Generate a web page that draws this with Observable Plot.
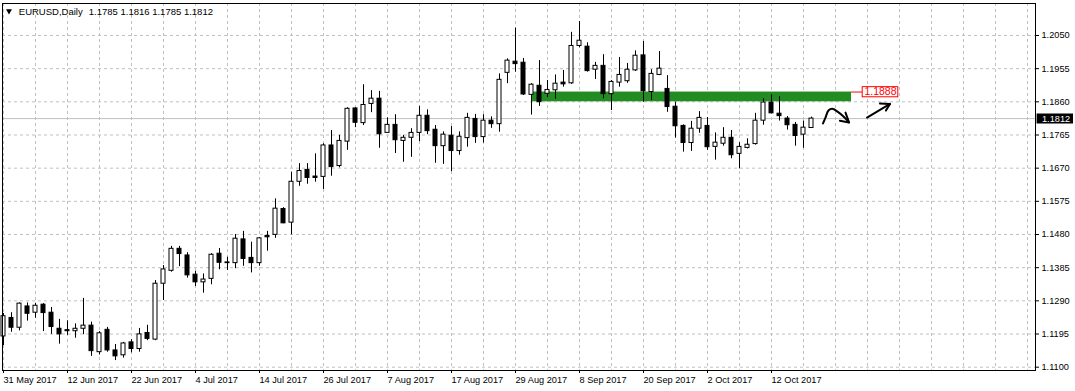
<!DOCTYPE html>
<html>
<head>
<meta charset="utf-8">
<script src="https://cdn.jsdelivr.net/npm/d3@7"></script>
<script src="https://cdn.jsdelivr.net/npm/@observablehq/plot@0.6"></script>
<style>
  html, body { margin: 0; padding: 0; background: #fff; }
  #chart svg { display: block; }
</style>
</head>
<body>
<div id="chart"></div>
<script>
// ---- Data (EURUSD daily) ----
const symbol = "EURUSD,Daily";
const open  = [1.1188,1.1241,1.1213,1.1274,1.1256,1.1279,1.1256,1.1210,1.1206,1.1203,1.1210,1.1219,1.1143,1.1207,1.1148,1.1134,1.1171,1.1152,1.1198,1.1179,1.1339,1.1376,1.1439,1.1420,1.1365,1.1343,1.1353,1.1425,1.1400,1.1398,1.1466,1.1413,1.1398,1.1476,1.1479,1.1553,1.1514,1.1631,1.1665,1.1646,1.1645,1.1735,1.1676,1.1746,1.1841,1.1799,1.1854,1.1869,1.1771,1.1794,1.1748,1.1757,1.1771,1.1820,1.1780,1.1733,1.1763,1.1719,1.1756,1.1811,1.1759,1.1806,1.1796,1.1943,1.1975,1.1972,1.1880,1.1906,1.1883,1.1893,1.1915,1.1913,1.2020,1.2018,1.1952,1.1963,1.1882,1.1915,1.1919,1.1950,1.1993,1.1888,1.1937,1.1897,1.1846,1.1791,1.1742,1.1783,1.1791,1.1731,1.1740,1.1757,1.1711,1.1728,1.1739,1.1806,1.1858,1.1826,1.1812,1.1794,1.1766,1.1785];
const high  = [1.1254,1.1256,1.1284,1.1284,1.1283,1.1282,1.1271,1.1237,1.1233,1.1224,1.1297,1.1229,1.1202,1.1214,1.1165,1.1171,1.1179,1.1211,1.1220,1.1348,1.1391,1.1446,1.1446,1.1428,1.1375,1.1367,1.1425,1.1440,1.1415,1.1480,1.1489,1.1458,1.1471,1.1489,1.1582,1.1557,1.1658,1.1683,1.1683,1.1711,1.1740,1.1778,1.1764,1.1843,1.1843,1.1909,1.1892,1.1890,1.1814,1.1823,1.1764,1.1783,1.1847,1.1837,1.1792,1.1774,1.1789,1.1774,1.1827,1.1824,1.1823,1.1817,1.1940,1.1983,1.2071,1.1984,1.1912,1.1978,1.1921,1.1937,1.1950,1.2059,1.2090,1.2029,1.1973,1.1995,1.1921,1.1987,1.1970,1.2006,1.2033,1.1952,1.2004,1.1935,1.1859,1.1794,1.1804,1.1832,1.1815,1.1771,1.1786,1.1778,1.1743,1.1754,1.1827,1.1869,1.1880,1.1875,1.1818,1.1801,1.1805,1.1816];
const low   = [1.1162,1.1200,1.1204,1.1232,1.1240,1.1202,1.1194,1.1166,1.1191,1.1183,1.1193,1.1131,1.1135,1.1143,1.1119,1.1126,1.1141,1.1143,1.1176,1.1176,1.1291,1.1372,1.1388,1.1355,1.1331,1.1312,1.1336,1.1379,1.1377,1.1382,1.1389,1.1370,1.1389,1.1432,1.1469,1.1511,1.1479,1.1618,1.1624,1.1630,1.1609,1.1647,1.1671,1.1721,1.1786,1.1792,1.1829,1.1727,1.1771,1.1712,1.1687,1.1701,1.1746,1.1766,1.1684,1.1681,1.1660,1.1707,1.1730,1.1741,1.1742,1.1784,1.1773,1.1912,1.1945,1.1878,1.1822,1.1847,1.1872,1.1867,1.1902,1.1910,1.2015,1.1945,1.1924,1.1869,1.1835,1.1902,1.1913,1.1947,1.1859,1.1864,1.1935,1.1830,1.1756,1.1716,1.1718,1.1770,1.1721,1.1693,1.1733,1.1697,1.1668,1.1725,1.1736,1.1793,1.1826,1.1805,1.1779,1.1733,1.1727,1.1785];
const close = [1.1246,1.1213,1.1282,1.1253,1.1276,1.1255,1.1215,1.1194,1.1203,1.1210,1.1219,1.1146,1.1197,1.1148,1.1131,1.1168,1.1152,1.1194,1.1181,1.1339,1.1380,1.1439,1.1424,1.1363,1.1343,1.1351,1.1422,1.1399,1.1398,1.1468,1.1410,1.1398,1.1469,1.1472,1.1554,1.1512,1.1631,1.1662,1.1642,1.1642,1.1735,1.1673,1.1748,1.1840,1.1800,1.1851,1.1869,1.1767,1.1794,1.1750,1.1757,1.1771,1.1820,1.1776,1.1733,1.1766,1.1719,1.1760,1.1814,1.1759,1.1806,1.1796,1.1923,1.1978,1.1968,1.1881,1.1909,1.1859,1.1894,1.1912,1.1910,1.2020,1.2035,1.1948,1.1963,1.1882,1.1917,1.1937,1.1952,1.1992,1.1890,1.1940,1.1955,1.1845,1.1790,1.1742,1.1783,1.1814,1.1730,1.1743,1.1757,1.1707,1.1731,1.1737,1.1806,1.1858,1.1827,1.1819,1.1793,1.1762,1.1786,1.1812];

// date tick labels (every 8th bar) and their bar indexes
const dateTickIndex = [0,8,16,24,32,40,48,56,64,72,80,88,96];
const dateTickLabels = ["31 May 2017","12 Jun 2017","22 Jun 2017","4 Jul 2017","14 Jul 2017","26 Jul 2017","7 Aug 2017","17 Aug 2017","29 Aug 2017","8 Sep 2017","20 Sep 2017","2 Oct 2017","12 Oct 2017"];
const gridIndex = [0,4,8,12,16,20,24,28,32,36,40,44,48,52,56,60,64,68,72,76,80,84,88,92,96,100,104,108,112,116,120,124,128];
const priceTicks = [1.1100,1.1195,1.1290,1.1385,1.1480,1.1575,1.1670,1.1765,1.1860,1.1955,1.2050];

// annotations (bar index, price)
const zoneStart = [66.1];
const zoneEnd = [106];
const zoneLow = [1.1860];
const zoneHigh = [1.1888];
const zoneLabelBox = {x1: 107.4, x2: 111.85, y1: 1.1873, y2: 1.1902};
const arrow1X = [102.44,102.75,103.12,103.6,104.25,105.0,105.69];
const arrow1Y = [1.1798,1.1815,1.1835,1.1840,1.1832,1.1818,1.1801];
const arrow1HeadX = [104.55,105.69,105.25];
const arrow1HeadY = [1.1806,1.1801,1.1829];
const arrow2X = [107.94,110.81];
const arrow2Y = [1.1815,1.1854];
const arrow2HeadX = [109.55,110.81,110.3];
const arrow2HeadY = [1.1855,1.1854,1.1835];
const xDomain = [-0.125, 129];
const yDomain = [1.10905, 1.21416];

// ---- Build ----
const candles = open.map((o, i) => ({i, open: o, high: high[i], low: low[i], close: close[i]}));
const last = candles[candles.length - 1];
const ohlcText = [last.open, last.high, last.low, last.close].map(v => v.toFixed(4)).join(" ");
const pts = (xs, ys) => xs.map((x, k) => ({x, y: ys[k]}));
const zone = zoneStart.map((s, k) => ({x1: s, x2: zoneEnd[k], y1: zoneLow[k], y2: zoneHigh[k]}));
const FONT = "'Liberation Sans', Arial, sans-serif";
const grey = "#c0c0c0";

const chart = Plot.plot({
  width: 1075,
  height: 391,
  marginLeft: 2,
  marginRight: 40,
  marginTop: 3,
  marginBottom: 21,
  x: {type: "linear", domain: xDomain},
  y: {type: "linear", domain: yDomain},
  style: {fontFamily: FONT, fontSize: "9.2px", background: "#fff", color: "#000", overflow: "visible"},
  marks: [
    Plot.gridY({ticks: priceTicks, stroke: grey, strokeOpacity: 1, strokeDasharray: "3,3"}),
    Plot.gridX({ticks: gridIndex, stroke: grey, strokeOpacity: 1, strokeDasharray: "3,3"}),
    Plot.ruleY([last.close], {stroke: grey, strokeWidth: 1}),
    Plot.rect(zone, {x1: "x1", x2: "x2", y1: "y1", y2: "y2", fill: "#228b22"}),
    // wicks and bodies
    Plot.ruleX(candles, {x: "i", y1: "low", y2: "high", stroke: "#000", strokeWidth: 1}),
    Plot.rect(candles, {
      x1: d => d.i - 0.25, x2: d => d.i + 0.25,
      y1: "open", y2: "close",
      fill: d => d.close >= d.open ? "#fff" : "#000",
      stroke: "#000", strokeWidth: 1
    }),
    // zone price label
    Plot.ruleY(zone, {x1: "x2", x2: () => zoneLabelBox.x1, y: "y2", stroke: "#ff0000"}),
    Plot.rect([zoneLabelBox], {x1: "x1", x2: "x2", y1: "y1", y2: "y2", fill: "#fff", stroke: "#ff0000"}),
    Plot.text(zone, {x: () => (zoneLabelBox.x1 + zoneLabelBox.x2) / 2, y: "y2", text: d => d.y2.toFixed(4), fill: "#ff0000", fontSize: 10.5, fontFamily: FONT}),
    // hand-drawn arrows
    Plot.line(pts(arrow1X, arrow1Y), {x: "x", y: "y", curve: "catmull-rom", stroke: "#000", strokeWidth: 2, strokeLinecap: "round"}),
    Plot.line(pts(arrow1HeadX, arrow1HeadY), {x: "x", y: "y", stroke: "#000", strokeWidth: 2, strokeLinecap: "round", strokeLinejoin: "round"}),
    Plot.line(pts(arrow2X, arrow2Y), {x: "x", y: "y", stroke: "#000", strokeWidth: 2, strokeLinecap: "round"}),
    Plot.line(pts(arrow2HeadX, arrow2HeadY), {x: "x", y: "y", stroke: "#000", strokeWidth: 2, strokeLinecap: "round", strokeLinejoin: "round"}),
    Plot.frame({stroke: "#000"}),
    // axes
    Plot.axisY({anchor: "right", ticks: priceTicks, tickFormat: d => d.toFixed(4), tickSize: 3, tickPadding: 3, fontSize: 9.2, label: null}),
    Plot.axisX({anchor: "bottom", ticks: dateTickIndex, tickFormat: (d) => dateTickLabels[dateTickIndex.indexOf(d)], textAnchor: "start", tickSize: 3, tickPadding: 3, fontSize: 9.2, label: null}),
    // current price label on the axis
    Plot.ruleY([last.close], {x1: () => xDomain[1] + 0.2, x2: () => xDomain[1] + 4.75, stroke: "#000", strokeWidth: 10}),
    Plot.text([last.close], {y: d => d, frameAnchor: "right", dx: 6.5, textAnchor: "start", text: d => d.toFixed(4), fill: "#fff", fontSize: 9.2}),
    // title
    Plot.dot([symbol], {frameAnchor: "top-left", dx: 6.5, dy: 7.5, symbol: "triangle", rotate: 180, r: 2.2, fill: "#000", stroke: null}),
    Plot.text([symbol], {frameAnchor: "top-left", dx: 16.3, dy: 4.3, lineAnchor: "top", textAnchor: "start", text: d => d, fontSize: 9.5}),
    Plot.text([ohlcText], {frameAnchor: "top-left", dx: 86.3, dy: 4.3, lineAnchor: "top", textAnchor: "start", text: d => d, fontSize: 9.5})
  ]
});
document.getElementById("chart").appendChild(chart);
</script>
</body>
</html>
